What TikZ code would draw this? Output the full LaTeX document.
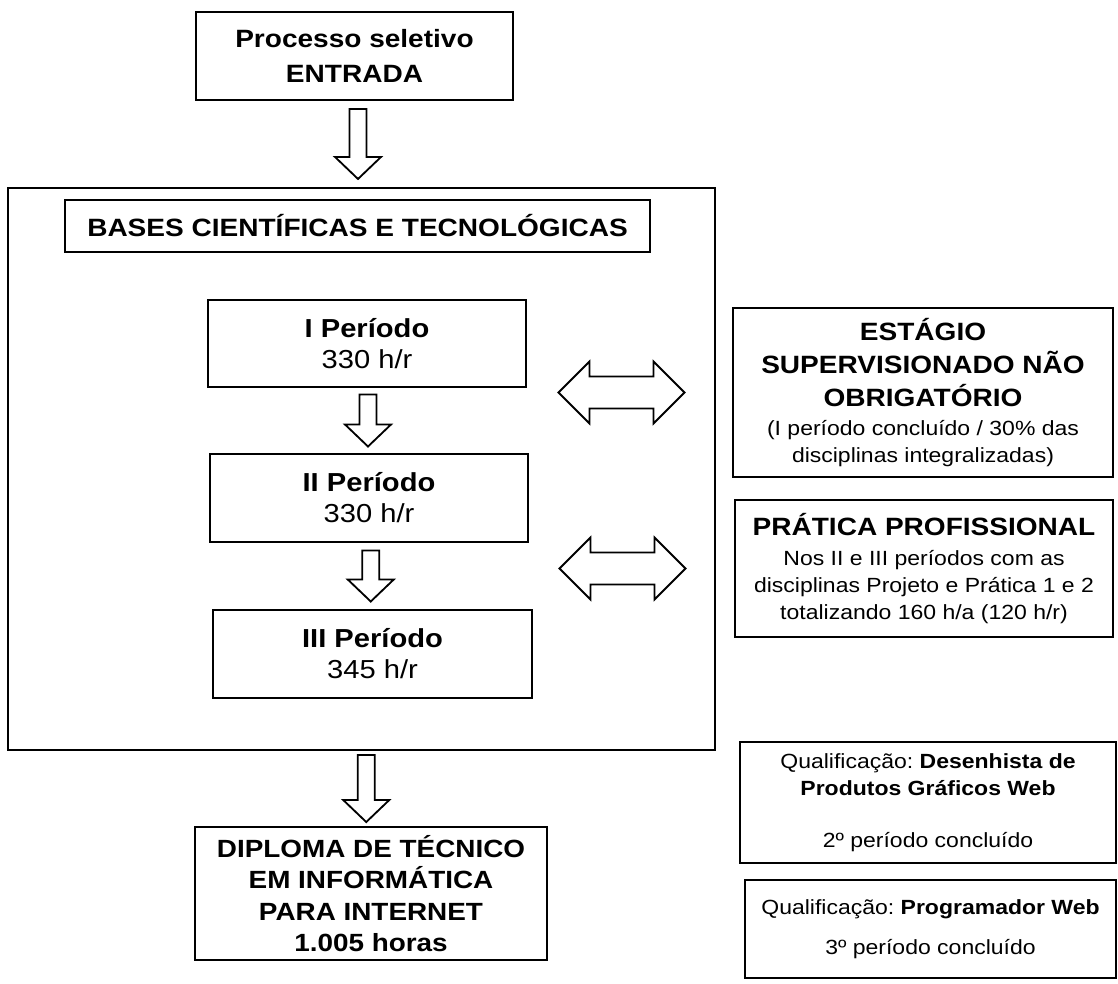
\documentclass[tikz,border=0pt]{standalone}
\usepackage{fontspec}
\setmainfont[FakeStretch=1.12]{Liberation Sans}
\usetikzlibrary{calc}
\frenchspacing

\newcommand\headtxt{\fontsize{17.8}{23.5}\selectfont}
\newcommand\subtxt{\fontsize{14.6}{19.2}\selectfont}
\newcommand\pertxt{\fontsize{18.5}{22}\selectfont}

\tikzset{
  box/.style={draw, line width=1.3pt, align=center, inner sep=0pt},
  blockarr/.style={draw, line width=1.3pt, fill=white},
  pics/downarr/.style={code={
    \draw[blockarr] (-8.5,-#1/2) -- (8.5,-#1/2) -- (8.5,#1/2-22) -- (23,#1/2-22)
      -- (0,#1/2) -- (-23,#1/2-22) -- (-8.5,#1/2-22) -- cycle;
  }},
  pics/dblarr/.style={code={
    \draw[blockarr] (-63,0) -- (-32,-31) -- (-32,-16) -- (32,-16) -- (32,-31)
      -- (63,0) -- (32,31) -- (32,16) -- (-32,16) -- (-32,31) -- cycle;
  }}
}

\begin{document}
\begin{tikzpicture}[x=0.025cm, y=-0.025cm]
\useasboundingbox (0,0) rectangle (1118,984);

% entrada e bases
\node[box, font=\fontsize{17.8}{25}\selectfont\bfseries,
      minimum width=7.925cm, minimum height=2.2cm] (entrada) at (354.5,56)
      {Processo seletivo\\ENTRADA};
\node[box, minimum width=17.675cm, minimum height=14.05cm] (bases) at (361.5,469) {};
\node[box, font=\headtxt\bfseries, minimum width=14.625cm, minimum height=1.3cm]
      (titulo) at (357.5,226) {BASES CIENTÍFICAS E TECNOLÓGICAS};

% periodos
\node[box, font=\pertxt, minimum width=7.95cm, minimum height=2.175cm]
      (per1) at (367,343.5) {\textbf{I Período}\\330 h/r};
\node[box, font=\pertxt, minimum width=7.95cm, minimum height=2.2cm]
      (per2) at (369,498) {\textbf{II Período}\\330 h/r};
\node[box, font=\pertxt, minimum width=7.975cm, minimum height=2.2cm]
      (per3) at (372.5,654) {\textbf{III Período}\\345 h/r};

% caixas da direita
\node[box, font=\subtxt, minimum width=9.5cm, minimum height=4.225cm] (estagio) at (923,392.5)
      {{\headtxt\bfseries ESTÁGIO}\\[4.3pt]
       {\headtxt\bfseries SUPERVISIONADO NÃO}\\[4.3pt]
       {\headtxt\bfseries OBRIGATÓRIO}\\[0.8pt]
       (I período concluído / 30\% das\\
       disciplinas integralizadas)};
\node[box, font=\subtxt, minimum width=9.45cm, minimum height=3.425cm] (pratica) at (924,568.5)
      {{\headtxt\bfseries PRÁTICA PROFISSIONAL}\\[2pt]
       Nos II e III períodos com as\\
       disciplinas Projeto e Prática 1 e 2\\
       totalizando 160 h/a (120 h/r)};
\node[box, font=\subtxt, minimum width=9.4cm, minimum height=3.025cm] (qual1) at (928,802.5)
      {Qualificação: \textbf{Desenhista de}\\
       \textbf{Produtos Gráficos Web}\\[18pt]
       2º período concluído};
\node[box, font=\subtxt, minimum width=9.275cm, minimum height=2.45cm] (qual2) at (930.5,929)
      {Qualificação: \textbf{Programador Web}\\[9pt]
       3º período concluído};

% saida
\node[box, font=\fontsize{17.7}{22.4}\selectfont\bfseries,
      minimum width=8.8cm, minimum height=3.325cm] (diploma) at (371,893.5)
      {DIPLOMA DE TÉCNICO\\EM INFORMÁTICA\\PARA INTERNET\\1.005 horas};

% setas
\pic at ($(entrada.south)!0.5!(bases.north)$) {downarr=70};
\pic at ($(per1.south)!0.5!(per2.north)$) {downarr=52};
\pic at ($(per2.south)!0.5!(per3.north)$) {downarr=51};
\pic at ($(bases.south)!0.5!(diploma.north)$) {downarr=67};

\coordinate (d1) at ($(per1.east)!0.5!(per1.east -| bases.east)$);
\pic at (d1 |- estagio.west) {dblarr};
\coordinate (d2) at ($(per2.east)!0.5!(per2.east -| bases.east)$);
\pic at (d2 |- pratica.west) {dblarr};

\end{tikzpicture}
\end{document}
